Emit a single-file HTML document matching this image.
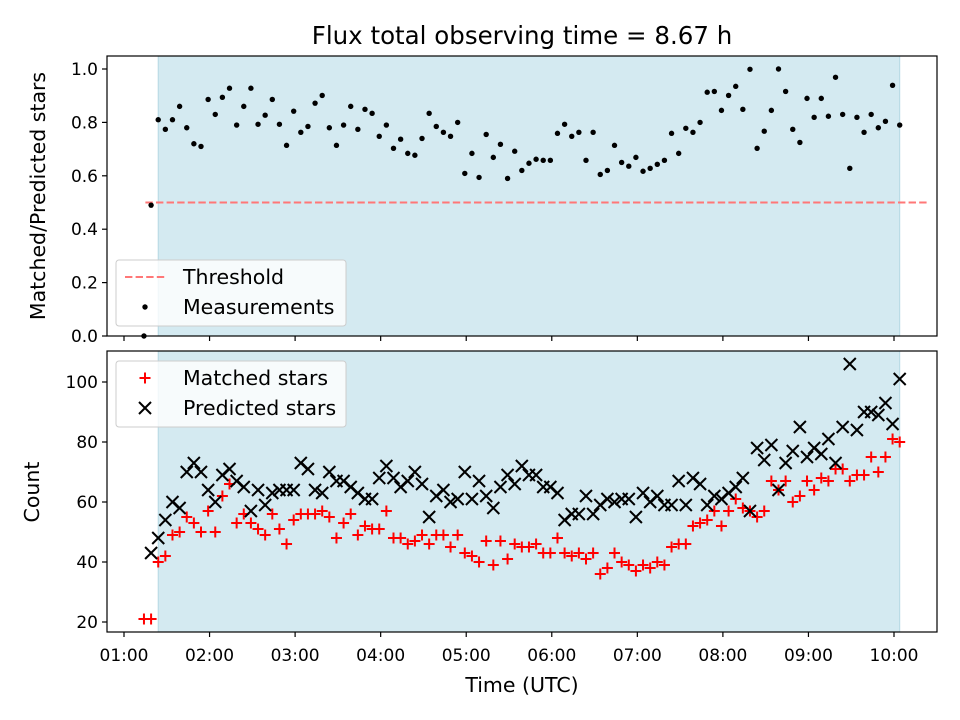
<!DOCTYPE html>
<html><head><meta charset="utf-8"><style>
body{margin:0;background:#fff}
svg{display:block;font-family:"DejaVu Sans","Liberation Sans",sans-serif}
</style></head><body>
<svg id="chart" width="960" height="720" viewBox="0 0 960 720">
<rect width="960" height="720" fill="#fff"/>
<text x="522" y="44" font-size="24.5" text-anchor="middle">Flux total observing time = 8.67 h</text>
<g id="top"></g>
<g id="bot"></g>
<text x="522" y="692" font-size="20.5" text-anchor="middle">Time (UTC)</text>
<text transform="translate(45,196) rotate(-90)" font-size="20.5" text-anchor="middle">Matched/Predicted stars</text>
<text transform="translate(39,492) rotate(-90)" font-size="20.5" text-anchor="middle">Count</text>
</svg>
<script>
const times=[74,79,84,89,94,99,104,109,114,119,124,129,134,139,144,149,154,159,164,169,174,179,184,189,194,199,204,209,214,219,224,229,234,239,244,249,254,259,264,269,274,279,284,289,294,299,304,309,314,319,324,329,334,339,344,349,354,359,364,369,374,379,384,389,394,399,404,409,414,419,424,429,434,439,444,449,454,459,464,469,474,479,484,489,494,499,504,509,514,519,524,529,534,539,544,549,554,559,564,569,574,579,584,589,594,599,604];
const ratio=[0,0.49,0.81,0.774,0.81,0.86,0.78,0.72,0.71,0.886,0.83,0.894,0.928,0.79,0.86,0.928,0.793,0.827,0.886,0.793,0.714,0.842,0.763,0.785,0.872,0.901,0.78,0.714,0.79,0.86,0.774,0.849,0.834,0.748,0.79,0.703,0.737,0.684,0.677,0.74,0.834,0.785,0.763,0.748,0.80,0.609,0.684,0.594,0.755,0.669,0.718,0.59,0.692,0.62,0.647,0.662,0.658,0.658,0.759,0.793,0.748,0.763,0.658,0.763,0.605,0.62,0.714,0.65,0.636,0.669,0.617,0.628,0.643,0.658,0.759,0.684,0.778,0.763,0.80,0.913,0.916,0.845,0.901,0.935,0.849,0.999,0.703,0.767,0.845,1.0,0.916,0.774,0.725,0.89,0.819,0.89,0.823,0.969,0.83,0.628,0.819,0.763,0.83,0.78,0.804,0.939,0.79];
const predicted=[null,43,48,54,60,58,70,73,70,64,60,69,71,67,65,57,64,59,63,64,64,64,73,71,64,63,70,67,67,65,63,61,61,68,72,68,65,67,70,66,55,62,64,60,61,70,61,67,62,58,65,69,66,72,69,69,65,65,63,54,56,56,62,56,59,61,60,61,61,55,63,60,62,59,59,67,59,68,66,59,62,61,63,65,68,57,78,74,79,64,73,77,85,75,78,76,81,73,85,106,84,90,90,89,93,86,101];
const matched=[21,21,40,42,49,50,55,53,50,57,50,62,66,53,56,53,51,49,56,51,46,54,56,56,56,57,55,48,53,56,49,52,51,51,57,48,48,46,47,49,46,49,49,45,49,43,42,40,47,39,47,41,46,45,45,46,43,43,48,43,42,43,41,43,36,38,43,40,39,37,39,38,40,39,45,46,46,52,53,54,57,52,57,61,58,57,55,57,67,64,67,60,62,67,64,68,67,71,71,67,69,69,75,70,75,81,80];
const xTickLabels=["01:00","02:00","03:00","04:00","05:00","06:00","07:00","08:00","09:00","10:00"];
const xTickMins=[60,120,180,240,300,360,420,480,540,600];
const topTicks=[0.0,0.2,0.4,0.6,0.8,1.0];
const botTicks=[20,40,60,80,100];
const threshold=0.5;
const shadeStart=84, shadeEnd=604, threshStart=75, threshEnd=604;

const NS="http://www.w3.org/2000/svg";
const L=107,R=937;
const x=m=>124+(m-60)*(770/540);
const yT=v=>336-v*267;
const yB=v=>622-(v-20)*3;
function mk(tag,attrs,parent){const e=document.createElementNS(NS,tag);for(const k in attrs)e.setAttribute(k,attrs[k]);parent.appendChild(e);return e;}

function axes(g,top,bottom,name){
  const s=mk('rect',{x:x(shadeStart),y:top,width:x(shadeEnd)-x(shadeStart),height:bottom-top,fill:'#d4eaf1',stroke:'#b5d8e3','stroke-width':1},g);
  
  
}
function frame(g,top,bottom,name,labels){
  const f=mk('rect',{x:L,y:top,width:R-L,height:bottom-top,fill:'none',stroke:'#000','stroke-width':1.2},g);
  
  
  xTickMins.forEach((m,i)=>{
    mk('line',{x1:x(m),x2:x(m),y1:bottom,y2:bottom+5,stroke:'#000','stroke-width':1.2},g);
    if(labels){const t=mk('text',{x:x(m),y:bottom+29,'font-size':17,'text-anchor':'middle'},g);t.textContent=xTickLabels[i];
      
      }
  });
}
const gT=document.getElementById('top'),gB=document.getElementById('bot');
axes(gT,56,336,'top');
const th=mk('line',{x1:x(threshStart),x2:x(threshEnd)+30,y1:yT(threshold),y2:yT(threshold),stroke:'#ff7777','stroke-width':2,'stroke-dasharray':'7.4,3.2'},gT);


ratio.forEach((v,i)=>{const c=mk('circle',{cx:x(times[i]),cy:yT(v),r:2.7,fill:'#000'},gT);
  
  });
frame(gT,56,336,'top',false);
topTicks.forEach(v=>{mk('line',{x1:L-5,x2:L,y1:yT(v),y2:yT(v),stroke:'#000','stroke-width':1.2},gT);
  const t=mk('text',{x:L-9,y:yT(v)+6,'font-size':17,'text-anchor':'end'},gT);t.textContent=v.toFixed(1);
  
  });
axes(gB,351,632,'bottom');
function plus(cx,cy,g){return mk('path',{d:`M${cx-5.5} ${cy}H${cx+5.5}M${cx} ${cy-5.5}V${cy+5.5}`,stroke:'#ff0000','stroke-width':2,fill:'none'},g);}
function cross(cx,cy,g){return mk('path',{d:`M${cx-6} ${cy-6}L${cx+6} ${cy+6}M${cx-6} ${cy+6}L${cx+6} ${cy-6}`,stroke:'#000','stroke-width':2,fill:'none'},g);}
matched.forEach((v,i)=>{const p=plus(x(times[i]),yB(v),gB);
  
  });
predicted.forEach((v,i)=>{if(v===null)return;const p=cross(x(times[i]),yB(v),gB);
  
  });
frame(gB,351,632,'bottom',true);
botTicks.forEach(v=>{mk('line',{x1:L-5,x2:L,y1:yB(v),y2:yB(v),stroke:'#000','stroke-width':1.2},gB);
  const t=mk('text',{x:L-9,y:yB(v)+6,'font-size':17,'text-anchor':'end'},gB);t.textContent=v;
  
  });
function legend(g,y0,items,name){
  const lg=mk('g',{},g);
  
  
  mk('rect',{x:116,y:y0,width:230,height:66,rx:3,fill:'#fff','fill-opacity':0.8,stroke:'#ccc'},lg);
  items.forEach((it,k)=>{const cy=y0+17+k*30;it.draw(145,cy,lg);
    const t=mk('text',{x:183,y:cy+7,'font-size':20.5},lg);t.textContent=it.label;
    
    });
}
legend(gT,260,[{label:'Threshold',draw:(cx,cy,g)=>mk('line',{x1:125,x2:165,y1:cy,y2:cy,stroke:'#ff7777','stroke-width':2,'stroke-dasharray':'7.4,3.2'},g)},
  {label:'Measurements',draw:(cx,cy,g)=>mk('circle',{cx:145,cy:cy,r:2.7,fill:'#000'},g)}],'top-legend');
legend(gB,361,[{label:'Matched stars',draw:(cx,cy,g)=>plus(145,cy,g)},
  {label:'Predicted stars',draw:(cx,cy,g)=>cross(145,cy,g)}],'bottom-legend');
</script>
</body></html>
